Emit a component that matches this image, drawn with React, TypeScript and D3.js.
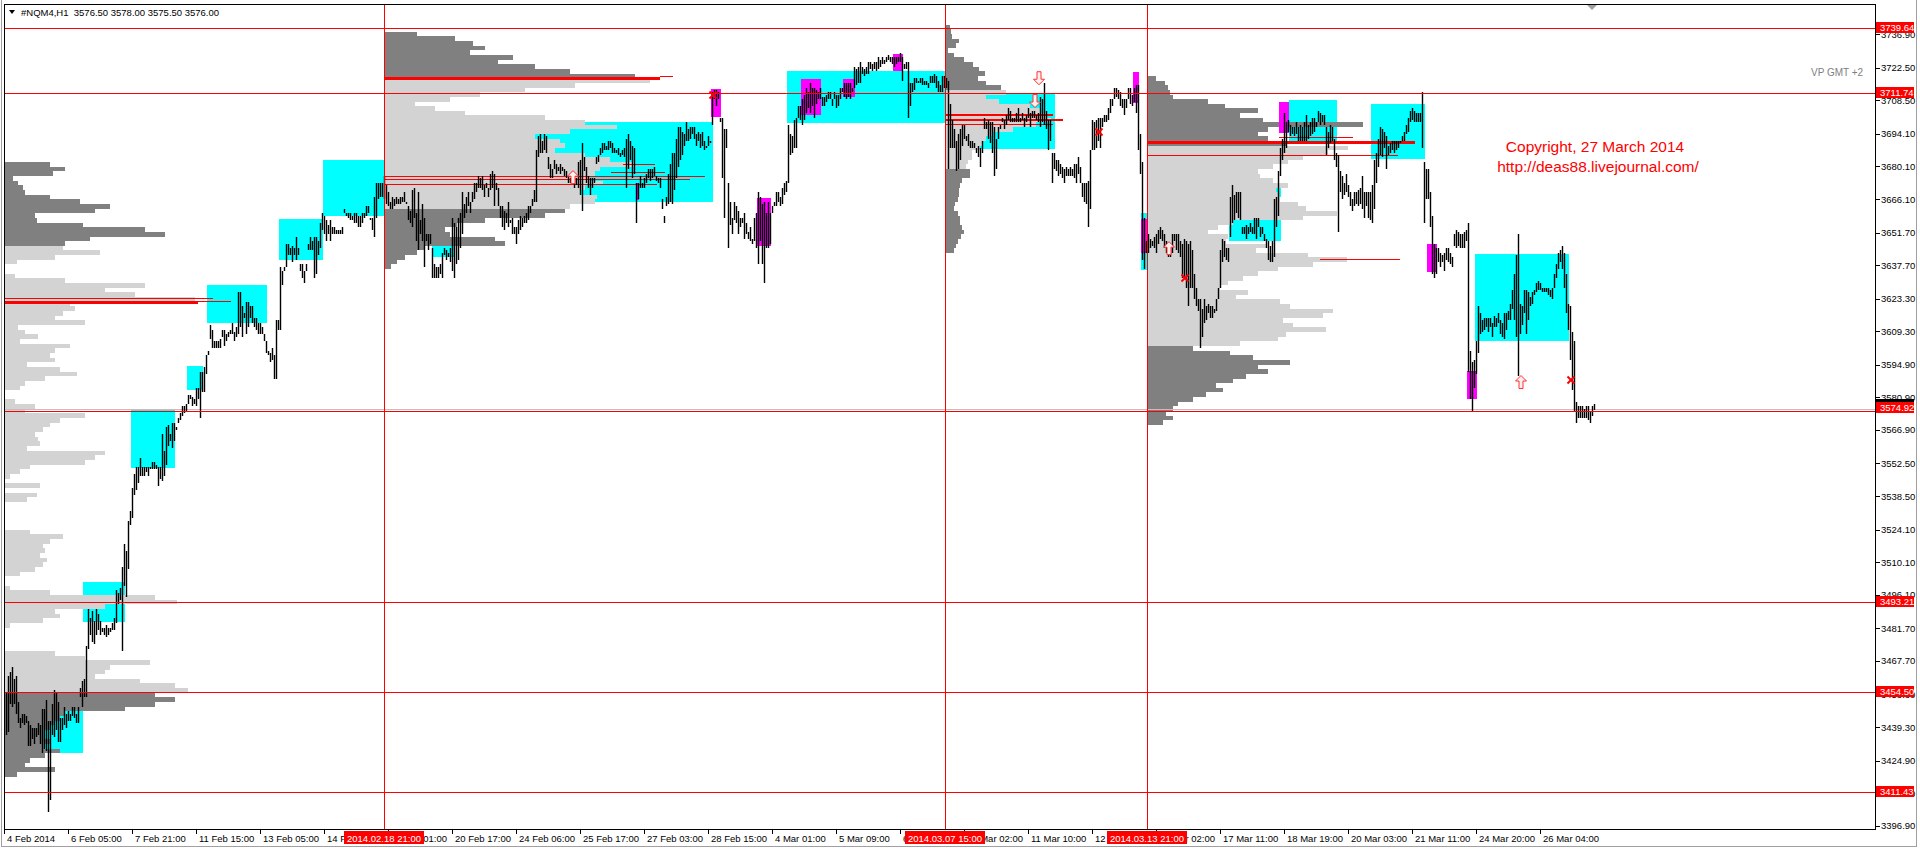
import React, { useEffect } from "react";
import * as d3 from "d3";

const headerText = "#NQM4,H1  3576.50 3578.00 3575.50 3576.00";

// H1 bars (high / low), one per hour slot
const barHigh = [
3454,3461,3463,3465,3460,3461,3450,3443,3445,3445,
3444,3442,3440,3439,3439,3439,3441,3440,3447,3447,
3451,3442,3442,3449,3455,3454,3450,3443,3443,3448,
3445,3446,3445,3448,3448,3445,3448,3456,3459,3460,
3474,3490,3486,3489,3485,3490,3488,3485,3482,3482,
3483,3482,3482,3484,3486,3498,3497,3499,3508,3518,
3515,3528,3532,3542,3548,3551,3551,3555,3551,3551,
3551,3551,3551,3553,3553,3552,3551,3551,3565,3558,
3568,3569,3565,3570,3570,3568,3572,3574,3577,3577,
3578,3582,3582,3581,3580,3585,3585,3592,3592,3594,
3599,3601,3612,3610,3605,3605,3605,3606,3610,3610,
3608,3609,3610,3613,3609,3611,3626,3626,3620,3617,
3622,3622,3620,3620,3615,3615,3613,3613,3611,3608,
3605,3601,3600,3602,3599,3614,3614,3637,3635,3637,
3647,3647,3645,3646,3645,3650,3645,3638,3638,3635,
3638,3647,3650,3648,3650,3650,3648,3656,3660,3659,
3657,3655,3657,3654,3654,3653,3653,3653,3654,3662,
3660,3660,3660,3659,3660,3660,3659,3659,3660,3660,
3663,3663,3658,3658,3667,3673,3673,3673,3673,3676,
3672,3669,3665,3667,3666,3667,3666,3667,3667,3669,
3665,3663,3661,3670,3671,3660,3669,3657,3664,3658,
3651,3651,3651,3645,3638,3637,3637,3638,3643,3645,
3644,3643,3645,3658,3656,3654,3658,3660,3669,3664,
3667,3669,3665,3669,3673,3673,3676,3675,3676,3672,
3673,3671,3677,3678,3677,3673,3671,3663,3663,3661,
3660,3665,3657,3658,3654,3654,3657,3659,3658,3659,
3660,3663,3663,3666,3670,3687,3693,3694,3691,3694,
3693,3684,3681,3679,3683,3681,3680,3681,3680,3679,
3678,3676,3675,3677,3675,3675,3682,3683,3690,3684,
3680,3676,3675,3675,3675,3684,3685,3688,3690,3690,
3689,3691,3691,3690,3688,3687,3688,3686,3687,3688,
3692,3694,3691,3689,3688,3673,3673,3676,3673,3675,
3677,3679,3679,3679,3680,3676,3675,3675,3666,3659,
3667,3677,3681,3686,3686,3692,3697,3697,3695,3694,
3699,3696,3697,3697,3697,3694,3695,3694,3695,3691,
3689,3693,3691,3712,3713,3713,3712,3701,3701,3696,
3696,3673,3665,3658,3665,3663,3661,3658,3658,3660,
3656,3652,3654,3649,3658,3660,3669,3667,3664,3665,
3660,3665,3660,3663,3665,3669,3669,3667,3671,3673,
3674,3698,3694,3693,3700,3701,3706,3706,3709,3711,
3714,3712,3716,3714,3714,3713,3712,3714,3710,3710,
3711,3712,3712,3709,3712,3711,3711,3714,3714,3716,
3716,3716,3716,3714,3723,3722,3723,3725,3723,3722,
3723,3725,3725,3724,3725,3725,3727,3726,3727,3726,
3727,3728,3727,3727,3727,3727,3727,3729,3727,3724,
3725,3725,3716,3716,3718,3718,3717,3718,3718,3717,
3717,3716,3719,3719,3720,3719,3717,3715,3719,3719,
3718,3717,3707,3700,3696,3691,3694,3696,3698,3698,
3693,3694,3691,3691,3690,3688,3689,3688,3691,3701,
3699,3700,3699,3699,3697,3692,3697,3698,3701,3700,
3702,3705,3704,3701,3701,3703,3705,3701,3703,3701,
3702,3705,3703,3704,3704,3702,3703,3710,3709,3716,
3704,3700,3700,3686,3686,3683,3683,3681,3680,3679,
3680,3679,3680,3679,3681,3681,3684,3680,3673,3673,
3673,3674,3687,3700,3699,3700,3701,3701,3701,3702,
3702,3705,3709,3709,3714,3714,3713,3712,3709,3709,
3709,3714,3714,3711,3714,3715,3715,3694,3682,3658,
3648,3651,3649,3648,3650,3651,3653,3654,3653,3651,
3648,3646,3645,3651,3651,3651,3651,3648,3647,3649,
3648,3647,3648,3644,3634,3628,3623,3623,3619,3623,
3620,3621,3620,3620,3619,3623,3628,3644,3649,3648,
3645,3645,3667,3672,3668,3669,3669,3669,3654,3654,
3655,3654,3656,3654,3658,3658,3658,3654,3654,3651,
3649,3648,3646,3648,3666,3667,3678,3688,3692,3703,
3699,3700,3698,3697,3697,3699,3697,3698,3697,3699,
3702,3698,3699,3701,3701,3699,3704,3703,3702,3702,
3697,3695,3698,3697,3692,3686,3685,3678,3676,3673,
3677,3672,3669,3666,3669,3669,3670,3671,3676,3669,
3669,3669,3669,3672,3683,3686,3692,3697,3696,3695,
3693,3689,3690,3691,3691,3691,3691,3691,3693,3695,
3698,3701,3704,3705,3704,3703,3703,3703,3712,3682,
3679,3679,3669,3659,3647,3645,3645,3643,3642,3643,
3645,3645,3643,3641,3651,3653,3652,3651,3651,3652,
3653,3656,3601,3596,3597,3605,3620,3617,3614,3615,
3615,3615,3615,3613,3616,3615,3617,3614,3613,3617,
3617,3618,3621,3627,3634,3642,3651,3621,3620,3627,
3627,3626,3624,3626,3627,3630,3631,3630,3628,3628,
3628,3628,3627,3628,3634,3638,3643,3644,3646,3643,
3634,3621,3620,3609,3605,3579,3577,3577,3577,3576,
3577,3577,3575,3577,3578
];

const barLow = [
3436,3437,3449,3448,3449,3445,3441,3439,3441,3440,
3441,3431,3431,3434,3432,3435,3436,3432,3428,3430,
3429,3403,3408,3436,3435,3438,3433,3433,3438,3440,
3439,3442,3442,3444,3443,3441,3441,3452,3448,3452,
3452,3473,3479,3476,3475,3479,3481,3479,3480,3479,
3478,3479,3480,3481,3481,3484,3492,3494,3472,3500,
3495,3507,3526,3529,3539,3541,3544,3547,3547,3547,
3549,3547,3550,3550,3550,3550,3543,3546,3545,3547,
3552,3560,3562,3559,3562,3567,3570,3571,3573,3574,
3575,3578,3580,3577,3578,3577,3580,3572,3583,3583,
3591,3599,3606,3602,3602,3602,3602,3602,3607,3603,
3605,3607,3608,3608,3605,3607,3608,3611,3607,3615,
3608,3611,3615,3613,3611,3610,3608,3608,3608,3605,
3600,3599,3596,3597,3589,3589,3610,3610,3629,3635,
3637,3642,3642,3639,3642,3640,3642,3635,3632,3630,
3635,3644,3644,3644,3632,3634,3642,3645,3653,3651,
3648,3651,3648,3651,3651,3651,3651,3651,3651,3660,
3659,3658,3657,3657,3656,3656,3654,3654,3656,3658,
3659,3660,3657,3653,3650,3658,3666,3667,3667,3666,
3664,3663,3662,3662,3663,3664,3664,3664,3665,3665,
3664,3657,3656,3654,3658,3648,3644,3651,3648,3637,
3648,3644,3647,3632,3632,3632,3632,3634,3632,3642,
3640,3641,3639,3635,3632,3638,3640,3645,3651,3658,
3660,3663,3660,3665,3666,3669,3671,3671,3670,3667,
3671,3667,3670,3671,3663,3670,3663,3658,3654,3653,
3656,3654,3656,3651,3651,3647,3651,3653,3654,3656,
3656,3657,3660,3663,3665,3665,3684,3686,3686,3687,
3686,3679,3675,3675,3679,3677,3678,3677,3678,3676,
3675,3673,3673,3674,3671,3672,3671,3668,3661,3678,
3673,3671,3668,3671,3673,3681,3682,3685,3686,3687,
3687,3687,3688,3686,3686,3686,3685,3684,3685,3684,
3671,3679,3683,3675,3677,3656,3666,3671,3671,3671,
3673,3675,3674,3675,3676,3674,3673,3671,3662,3656,
3663,3664,3665,3664,3670,3675,3680,3683,3685,3689,
3691,3691,3692,3694,3692,3689,3691,3688,3689,3687,
3688,3689,3690,3698,3709,3706,3709,3699,3675,3658,
3688,3645,3655,3651,3657,3656,3651,3654,3656,3649,
3651,3649,3648,3647,3648,3645,3638,3648,3638,3630,
3645,3645,3647,3660,3663,3663,3665,3663,3664,3668,
3669,3673,3685,3686,3688,3688,3701,3700,3698,3700,
3703,3705,3703,3706,3701,3707,3709,3709,3706,3706,
3708,3709,3709,3706,3709,3705,3706,3709,3712,3710,
3709,3710,3709,3712,3714,3715,3716,3716,3720,3719,
3720,3720,3722,3721,3722,3721,3722,3723,3724,3724,
3725,3726,3725,3724,3723,3724,3725,3725,3717,3722,
3722,3701,3706,3712,3713,3716,3716,3716,3715,3715,
3715,3714,3716,3716,3716,3714,3712,3712,3712,3714,
3714,3679,3688,3688,3688,3678,3679,3683,3689,3692,
3691,3689,3688,3688,3688,3686,3684,3680,3686,3696,
3696,3692,3690,3686,3676,3679,3692,3696,3699,3696,
3698,3700,3699,3699,3699,3699,3699,3699,3700,3697,
3699,3701,3697,3701,3701,3700,3699,3697,3699,3698,
3696,3687,3691,3673,3679,3678,3676,3677,3675,3673,
3676,3676,3676,3676,3675,3673,3677,3673,3667,3665,
3664,3654,3662,3687,3687,3688,3691,3688,3697,3699,
3699,3700,3703,3706,3709,3710,3709,3706,3705,3702,
3705,3709,3707,3706,3708,3703,3687,3677,3640,3636,
3643,3643,3645,3646,3645,3643,3647,3649,3648,3645,
3643,3641,3641,3643,3648,3644,3643,3641,3632,3632,
3628,3620,3628,3628,3623,3620,3618,3602,3607,3613,
3614,3617,3615,3615,3617,3618,3623,3628,3639,3641,
3640,3639,3650,3656,3657,3660,3658,3657,3651,3651,
3649,3651,3652,3651,3651,3649,3654,3650,3651,3648,
3645,3640,3639,3639,3641,3654,3659,3676,3683,3686,
3688,3695,3693,3694,3693,3694,3691,3691,3691,3691,
3691,3692,3693,3694,3695,3697,3699,3698,3699,3698,
3685,3688,3690,3691,3683,3680,3652,3669,3666,3668,
3669,3667,3663,3661,3663,3664,3663,3664,3662,3658,
3663,3658,3657,3656,3662,3673,3680,3685,3684,3688,
3679,3685,3686,3687,3686,3687,3688,3690,3691,3691,
3694,3695,3699,3700,3699,3699,3699,3699,3688,3656,
3666,3666,3654,3634,3632,3634,3639,3637,3639,3635,
3640,3639,3638,3637,3646,3645,3646,3645,3645,3645,
3648,3592,3580,3575,3585,3591,3600,3608,3609,3610,
3611,3609,3611,3607,3611,3611,3613,3608,3607,3606,
3610,3614,3614,3619,3614,3607,3590,3608,3612,3617,
3608,3614,3620,3621,3625,3626,3627,3627,3626,3626,
3626,3625,3624,3623,3628,3632,3636,3639,3636,3628,
3617,3610,3597,3584,3575,3570,3572,3572,3572,3572,
3572,3571,3570,3573,3575.5
];

const xTickLabels = [
  "4 Feb 2014", "6 Feb 05:00", "7 Feb 21:00", "11 Feb 15:00", "13 Feb 05:00",
  "14 Feb 21:00", "19 Feb 01:00", "20 Feb 17:00", "24 Feb 06:00", "25 Feb 17:00",
  "27 Feb 03:00", "28 Feb 15:00", "4 Mar 01:00", "5 Mar 09:00", "6 Mar 17:00",
  "10 Mar 02:00", "11 Mar 10:00", "12 Mar 18:00", "14 Mar 02:00", "17 Mar 11:00",
  "18 Mar 19:00", "20 Mar 03:00", "21 Mar 11:00", "24 Mar 20:00", "26 Mar 04:00"
];
const barsPerTick = 32;

const priceTicks = [
  3736.9, 3722.5, 3708.5, 3694.1, 3680.1, 3666.1, 3651.7, 3637.7, 3623.3, 3609.3,
  3594.9, 3580.9, 3566.9, 3552.5, 3538.5, 3524.1, 3510.1, 3496.1, 3481.7, 3467.7,
  3453.3, 3439.3, 3424.9, 3410.9, 3396.9
];

const levelLines = [3739.64, 3711.74, 3574.92, 3493.21, 3454.5, 3411.43];
const bidPrice = 3576.0;

const periodStartBars = [189, 469.5, 570.5];
const periodLabels = ["2014.02.18 21:00", "2014.03.07 15:00", "2014.03.13 21:00"];

// Volume profiles: volumes per 2-point level, from the top price downwards
const profileStep = 2;
const profile1Vol = [45,60,48,8,13,18,20,45,75,105,90,30,32,78,140,160,85,60,58,95,50,12,0,0,10,60,140,100,130,190,65,70,58,50,80,13,20,33,15,65,50,45,50,22,55,72,40,20,15,0,0,10,30,20,80,55,45,38,30,33,35,22,100,90,80,25,15,5,0,35,0,32,22,0,0,0,0,0,0,25,58,45,38,40,35,42,38,30,15,0,0,5,45,150,172,100,50,55,38,5,0,0,0,0,0,50,80,145,105,100,90,135,170,183,150,170,150,120,60,55,50,45,40,40,45,40,55,40,25,20,50,12];
const profile2Vol = [32,70,88,100,85,128,113,150,185,250,265,190,140,95,65,30,50,80,160,200,232,185,150,175,180,170,200,225,250,215,210,205,218,200,195,212,210,185,180,160,100,72,60,65,110,120,40,32,20,12,6];
const profile3Vol = [4,5,6,13,10,2,8,18,27,33,39,32,40,55,60,40,53,84,95,100,105,90,67,47,40,36,34,26,26,22,20,24,24,16,14,13,13,12,9,8,12,14,14,16,18,15,12,10,8];
const profile4Vol = [8,17,20,22,25,60,77,110,92,115,215,120,110,120,138,200,180,155,140,125,110,112,125,140,128,130,132,150,158,189,155,85,70,60,80,78,118,108,160,199,165,130,110,95,80,72,100,88,132,142,185,175,135,145,178,138,130,92,45,82,105,142,110,120,98,85,68,75,58,45,30,25,18,25,15];
const profileVols = [profile1Vol, profile2Vol, profile3Vol, profile4Vol];
const profileTopPrice = [3681, 3737, 3740, 3718];
const profileStartBar = [-0.5, 189.5, 470, 571];
const profileValueArea = [[3454, 3646], [3662, 3717.5], [3679, 3713], [3603, 3689]];

// POC / level segments: [price, fromBar, toBar, weight]
const pocSegments = [
  [3623.2, -0.5, 103.5, 1], [3621.6, -0.5, 96, 3], [3622.3, 96, 112.5, 1],
  [3717.9, 189.5, 327, 3], [3718.6, 327, 333.5, 1],
  [3675.8, 189.5, 349.5, 1], [3674.6, 189.5, 342, 1], [3672.4, 189.5, 325.5, 1],
  [3680.8, 308.5, 324.5, 1], [3677.6, 302.5, 329.5, 1],
  [3702.0, 470, 523.5, 2], [3700.0, 470, 528.5, 2], [3698.3, 470, 523.5, 1],
  [3690.2, 570.5, 704.5, 3], [3685.0, 570.5, 696, 1], [3692.4, 636.5, 673.5, 1],
  [3640.2, 657, 697, 1]
];

// zones: [fromBar, toBar, topPrice, bottomPrice]
const cyanZones = [
  [18, 38.5, 3447.4, 3428.0], [38.5, 59.5, 3501.8, 3484.2], [62.5, 84.5, 3575.3, 3550.4],
  [90.5, 98.5, 3594.2, 3583.9], [100.5, 130.5, 3629.1, 3612.8], [136.5, 158.5, 3657.5, 3639.9],
  [158.5, 189, 3682.9, 3658.8], [213, 224.5, 3646.4, 3641.2], [256, 353.5, 3699.2, 3664.8],
  [390.5, 469.5, 3721.1, 3698.8], [469.5, 524.5, 3711.6, 3687.6], [567.5, 570.5, 3660.1, 3635.6],
  [641.5, 665.5, 3708.6, 3690.6], [611.5, 637.5, 3657.1, 3648.1], [621, 637.5, 3673, 3667],
  [682.5, 709.5, 3706.9, 3683.3], [734.5, 781.5, 3642.5, 3605.2]
];
const magentaZones = [
  [352.5, 357.5, 3713.4, 3701.3], [315, 316.5, 3673, 3665.7], [375.5, 382.5, 3666.5, 3645.9],
  [397.5, 407.5, 3717.7, 3702.2], [418.5, 424.5, 3717.7, 3710], [443.5, 448.5, 3728.4, 3721.1],
  [563.5, 566.5, 3720.7, 3707.3], [567.5, 570.5, 3657.5, 3643], [636.5, 641.5, 3707.7, 3694.4],
  [710.5, 715.5, 3646.8, 3634.8], [730.5, 735.5, 3592.2, 3580.2]
];

// signals: [bar, price, kind]
const signals: [number, number, string][] = [
  [353.5, 3710.8, "x"], [283.5, 3675.5, "up"], [516.5, 3718, "down"], [514.5, 3708.2, "down"],
  [546.5, 3694.9, "x"], [581.5, 3645, "up"], [589.5, 3632.2, "x"], [757.5, 3587.5, "up"],
  [782.5, 3588.4, "x"]
];

const FONT = "'Liberation Sans', Arial, sans-serif";

export default function App() {
  useEffect(() => {
    document.body.style.margin = "0";
  }, []);

  const x = d3.scaleLinear().domain([0, 794]).range([6, 1594]);
  const y = d3.scaleLinear().domain([3396.9, 3736.9]).range([825.7, 34.24]);
  const vol = d3.scaleLinear().domain([0, 100]).range([0, 100]);

  const plotL = 4.5, plotT = 4.5, plotR = 1875.5, plotB = 829.5;
  const ry = (p: number) => Math.round(y(p));

  const zoneRect = (z: number[], fill: string, key: string) => {
    const x0 = Math.round(x(z[0])), x1 = Math.round(x(z[1]));
    const y0 = ry(z[2]), y1 = ry(z[3]);
    return <rect key={key} x={x0} y={y0} width={Math.max(1, x1 - x0)} height={y1 - y0} fill={fill} />;
  };

  const profileRects: JSX.Element[] = [];
  profileVols.forEach((vols, j) => {
    const x0 = Math.round(x(profileStartBar[j]));
    const [vaLo, vaHi] = profileValueArea[j];
    vols.forEach((v, i) => {
      if (v <= 0) return;
      const p = profileTopPrice[j] - profileStep * i;
      const y0 = ry(p + profileStep / 2);
      const y1 = ry(p - profileStep / 2);
      const inVA = p >= vaLo && p <= vaHi;
      profileRects.push(
        <rect key={`p${j}-${i}`} x={x0} y={y0} width={Math.round(vol(v))} height={Math.max(1, y1 - y0)}
          fill={inVA ? "#d3d3d3" : "#808080"} />
      );
    });
  });

  const bidY = y(bidPrice);

  const signalMarks = signals.map(([b, p, kind], i) => {
    const cx = x(b), cy = y(p);
    if (kind === "x") {
      return (
        <g key={`s${i}`} stroke="#ff0000" strokeWidth={2}>
          <line x1={cx - 3.5} y1={cy - 3.5} x2={cx + 3.5} y2={cy + 3.5} />
          <line x1={cx - 3.5} y1={cy + 3.5} x2={cx + 3.5} y2={cy - 3.5} />
        </g>
      );
    }
    const d = kind === "up"
      ? `M${cx},${cy - 6.5} L${cx + 5.5},${cy - 1} L${cx + 2},${cy - 1} L${cx + 2},${cy + 6.5} L${cx - 2},${cy + 6.5} L${cx - 2},${cy - 1} L${cx - 5.5},${cy - 1} Z`
      : `M${cx},${cy + 6.5} L${cx + 5.5},${cy + 1} L${cx + 2},${cy + 1} L${cx + 2},${cy - 6.5} L${cx - 2},${cy - 6.5} L${cx - 2},${cy + 1} L${cx - 5.5},${cy + 1} Z`;
    return <path key={`s${i}`} d={d} fill="#fff0f0" stroke="#ff3030" strokeWidth={1} />;
  });

  return (
    <svg width={1920} height={851} style={{ position: "absolute", left: 0, top: 0, display: "block", background: "#ffffff" }}
      fontFamily={FONT}>
      <defs>
        <clipPath id="plot">
          <rect x={5} y={5} width={1870} height={824} />
        </clipPath>
      </defs>
      <rect x={0} y={0} width={1920} height={851} fill="#ffffff" />

      <g clipPath="url(#plot)" shapeRendering="crispEdges">
        {cyanZones.map((z, i) => zoneRect(z, "#00ffff", `c${i}`))}
        {profileRects}
        {magentaZones.map((z, i) => zoneRect(z, "#ff00ff", `m${i}`))}
        {pocSegments.map(([p, b0, b1, w], i) => (
          <rect key={`poc${i}`} x={Math.round(x(b0))} y={Math.round(y(p) - w / 2)}
            width={Math.round(x(b1) - x(b0))} height={w} fill="#ff0000" />
        ))}
        <line x1={plotL} x2={plotR} y1={Math.round(bidY) + 0.5} y2={Math.round(bidY) + 0.5} stroke="#c0c0c0" strokeWidth={1} />
      </g>
      <g clipPath="url(#plot)">
        {barHigh.map((h, i) => {
          const yt = ry(h), yb = ry(barLow[i]);
          return <rect key={`b${i}`} x={x(i) - 0.2} y={yt} width={1.4} height={Math.max(1, yb - yt)} fill="#000000" />;
        })}
      </g>
      <g clipPath="url(#plot)" shapeRendering="crispEdges">
        {levelLines.map((p, i) => (
          <line key={`l${i}`} x1={plotL} x2={plotR} y1={ry(p) + 0.5} y2={ry(p) + 0.5} stroke="#ff0000" strokeWidth={1} />
        ))}
        {periodStartBars.map((b, i) => (
          <line key={`v${i}`} x1={Math.round(x(b)) + 0.5} x2={Math.round(x(b)) + 0.5} y1={plotT} y2={plotB} stroke="#ff0000" strokeWidth={1} />
        ))}
      </g>
      <g clipPath="url(#plot)">{signalMarks}</g>

      {/* frame */}
      <g shapeRendering="crispEdges" fill="none">
        <line x1={1.5} x2={1.5} y1={0} y2={847} stroke="#a0a0a0" />
        <line x1={1916.5} x2={1916.5} y1={0} y2={847} stroke="#a0a0a0" />
        <line x1={1.5} x2={1916.5} y1={846.5} y2={846.5} stroke="#a0a0a0" />
        <rect x={plotL} y={plotT} width={plotR - plotL} height={plotB - plotT} stroke="#000000" />
      </g>
      <path d="M1587,5 L1597,5 L1592,10 Z" fill="#a0a0a0" />

      {/* header */}
      <path d="M9,10 L15,10 L12,14 Z" fill="#000000" />
      <text x={21} y={16} fontSize={9.5} fill="#000000">{headerText.replace(/ /g, "\u00a0")}</text>

      <text x={1811} y={75.5} fontSize={10} fill="#808080">VP GMT +2</text>
      <text x={1595} y={152} fontSize={15.5} fill="#ff0000" textAnchor="middle">Copyright, 27 March 2014</text>
      <text x={1598} y={172} fontSize={15.5} fill="#ff0000" textAnchor="middle">http://deas88.livejournal.com/</text>

      {/* right axis */}
      <g shapeRendering="crispEdges">
        {priceTicks.map((v, i) => (
          <line key={`rt${i}`} x1={plotR} x2={plotR + 4} y1={ry(v) + 0.5} y2={ry(v) + 0.5} stroke="#000" />
        ))}
      </g>
      {priceTicks.map((v, i) => (
        <text key={`rl${i}`} x={1881} y={y(v) + 3.5} fontSize={9.5} fill="#000000">{v.toFixed(2)}</text>
      ))}
      <rect x={1876} y={Math.round(bidY) - 10} width={38} height={12} fill="#000000" />
      {levelLines.map((p, i) => {
        let cy = y(p);
        if (Math.abs(cy - bidY) < 10) cy = bidY - 1.3;
        return (
          <g key={`ll${i}`}>
            <rect x={1876} y={Math.round(cy - 5.5)} width={38} height={11} fill="#ff0000" />
            <text x={1880} y={cy + 3.5} fontSize={9.5} fill="#ffffff">{p.toFixed(2)}</text>
          </g>
        );
      })}

      {/* bottom axis */}
      <g shapeRendering="crispEdges">
        {xTickLabels.map((_, i) => {
          const tx = Math.round(x(barsPerTick * i - 1)) + 0.5;
          return <line key={`bt${i}`} x1={tx} x2={tx} y1={plotB} y2={plotB + 4} stroke="#000" />;
        })}
      </g>
      {xTickLabels.map((t, i) => (
        <text key={`bl${i}`} x={x(barsPerTick * i - 1) + 3} y={841.5} fontSize={9.5} fill="#000000">{t}</text>
      ))}
      {periodStartBars.map((b, i) => (
        <g key={`pl${i}`}>
          <rect x={Math.round(x(b)) - 40} y={831} width={80} height={13} fill="#ff0000" />
          <text x={x(b)} y={841.5} fontSize={9.5} fill="#ffffff" textAnchor="middle">{periodLabels[i]}</text>
        </g>
      ))}
    </svg>
  );
}
